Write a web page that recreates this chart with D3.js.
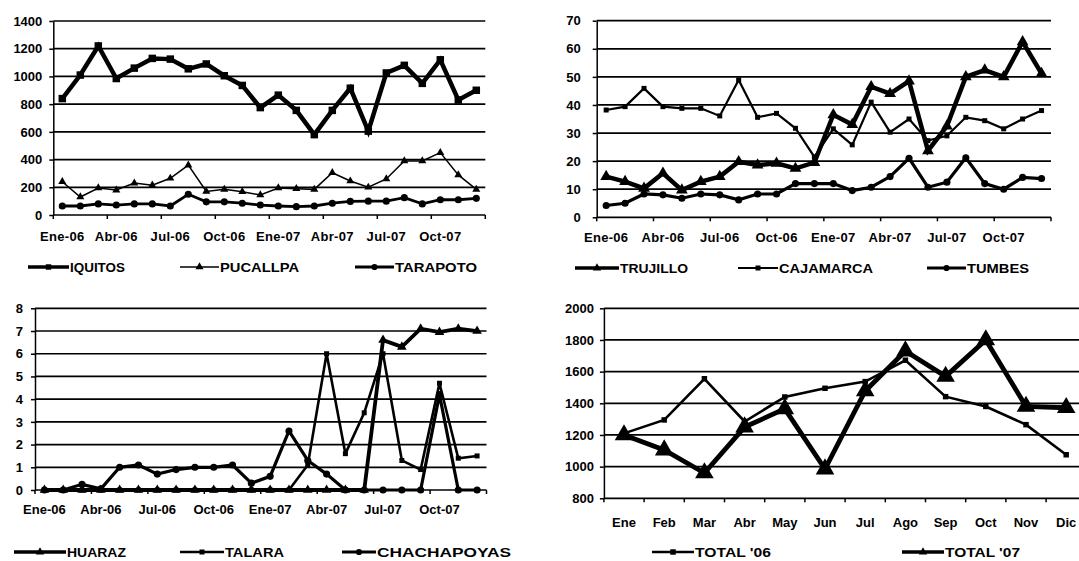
<!DOCTYPE html>
<html><head><meta charset="utf-8">
<script src="https://cdn.jsdelivr.net/npm/d3@7"></script>
<style>
html,body{margin:0;padding:0;background:#fff;}
svg{display:block;}
</style></head><body>
<svg id="chart" width="1079" height="561"></svg>
<script>
// Monthly categories, Jan 2006 – Dec 2007
const months = ["Ene-06","Feb-06","Mar-06","Abr-06","May-06","Jun-06","Jul-06","Ago-06","Sep-06","Oct-06","Nov-06","Dic-06",
                "Ene-07","Feb-07","Mar-07","Abr-07","May-07","Jun-07","Jul-07","Ago-07","Sep-07","Oct-07","Nov-07","Dic-07"];
const monthLabels = ["Ene-06","Abr-06","Jul-06","Oct-06","Ene-07","Abr-07","Jul-07","Oct-07"];
const monthNames = ["Ene","Feb","Mar","Abr","May","Jun","Jul","Ago","Sep","Oct","Nov","Dic"];

// Top-left panel
const iquitos  = [840,1010,1220,985,1060,1130,1125,1055,1090,1005,935,775,865,755,580,755,915,605,1025,1080,950,1120,830,900];
const pucallpa = [240,130,195,180,230,215,265,360,170,185,168,145,195,190,185,305,245,200,260,390,390,450,289,185];
const tarapoto = [65,65,80,72,80,80,65,150,95,95,85,72,65,60,65,85,98,100,100,125,80,110,110,120];
const ticks1 = [0,200,400,600,800,1000,1200,1400];

// Top-right panel
const trujillo  = [14.5,12.7,10.3,15.7,9.7,12.7,14.5,19.8,18.6,19.2,17.4,19.5,36.5,33,46.5,44,48.5,23.7,32.5,50,52.4,50,62.5,51.2];
const cajamarca = [38.2,39.4,45.9,39.4,38.8,38.8,36.1,48.9,35.6,37,31.7,21.5,31.5,25.8,41,30.3,35,27.3,29,35.6,34.4,31.5,35,38];
const tumbes    = [4.2,5,8.3,8,6.8,8.3,8,6.2,8.3,8.3,12,12,12,9.5,10.7,14.5,21,10.7,12.5,21.2,12,10,14.2,13.8];
const ticks2 = [0,10,20,30,40,50,60,70];

// Bottom-left panel
const huaraz      = [0,0,0,0,0,0,0,0,0,0,0,0,0,0,0,0,0,0,6.6,6.3,7.1,6.95,7.1,7.0];
const talara      = [0,0,0,0,0,0,0,0,0,0,0,0,0,0,1.1,6.0,1.6,3.4,6.0,1.3,0.9,4.7,1.4,1.5];
const chachapoyas = [0,0,0.25,0.05,1.0,1.1,0.7,0.9,1.0,1.0,1.1,0.3,0.6,2.6,1.3,0.7,0,0,0,0,0,4.2,0,0];
const ticks3 = [0,1,2,3,4,5,6,7,8];

// Bottom-right panel
const total06 = [1210,1295,1555,1285,1440,1495,1537,1672,1442,1380,1265,1075];
const total07 = [1200,1105,960,1250,1365,985,1478,1730,1570,1800,1380,1372];
const ticks4 = [800,1000,1200,1400,1600,1800,2000];

const svg = d3.select("#chart");
const FONT = "'Liberation Sans', Arial, sans-serif";

function marker(shape, size) {
  const t = {square: d3.symbolSquare, triangle: d3.symbolTriangle, circle: d3.symbolCircle, diamond: d3.symbolDiamond}[shape];
  return d3.symbol().type(t).size(size)();
}

function drawPanel(cfg) {
  const g = svg.append("g");
  const x = d3.scaleBand().domain(cfg.cats).range([cfg.x0, cfg.x1]).paddingInner(0).paddingOuter(0);
  const y = d3.scaleLinear().domain([cfg.ticks[0], cfg.ticks[cfg.ticks.length - 1]]).range([cfg.yBottom, cfg.yTop]);
  const cx = c => x(c) + x.bandwidth() / 2;
  const right = Math.min(cfg.x1, 1079);

  // horizontal gridlines
  g.append("g").selectAll("line").data(cfg.ticks).join("line")
    .attr("x1", cfg.x0).attr("x2", right)
    .attr("y1", d => y(d)).attr("y2", d => y(d))
    .attr("stroke", "#000").attr("stroke-width", 1.7);

  // value axis
  const ya = g.append("g").attr("transform", `translate(${cfg.x0},0)`)
    .call(d3.axisLeft(y).tickValues(cfg.ticks).tickFormat(d3.format("d"))
      .tickSize(4).tickPadding(cfg.yPad).tickSizeOuter(0));
  ya.select(".domain").attr("stroke", "#000").attr("stroke-width", 1.5);
  ya.selectAll(".tick line").attr("stroke", "#000").attr("stroke-width", 1.5);
  ya.selectAll("text").attr("font-family", FONT).attr("font-weight", "bold")
    .attr("font-size", 13).attr("fill", "#000");
  ya.attr("font-family", null).attr("font-size", null);

  // category axis labels
  const xa = g.append("g").attr("transform", `translate(0,${cfg.yBottom})`)
    .call(d3.axisBottom(x).tickValues(cfg.labels).tickSize(0).tickPadding(cfg.xPad));
  xa.select(".domain").remove();
  xa.selectAll("text").attr("font-family", FONT).attr("font-weight", "bold")
    .attr("font-size", 13).attr("fill", "#000").attr("letter-spacing", cfg.xSpacing || 0);
  xa.attr("font-family", null).attr("font-size", null);

  // category tick marks on band boundaries
  const bounds = cfg.cats.filter((c, i) => i % cfg.tickEvery === 0).map(c => x(c))
    .concat([x.range()[1]]).filter(v => v <= 1079);
  g.append("g").selectAll("line").data(bounds).join("line")
    .attr("x1", d => d).attr("x2", d => d)
    .attr("y1", cfg.yBottom).attr("y2", cfg.yBottom + 4)
    .attr("stroke", "#000").attr("stroke-width", 1.5);

  // series
  const line = d3.line().x((d, i) => cx(cfg.cats[i])).y(d => y(d));
  cfg.series.forEach(s => {
    g.append("path").datum(s.values).attr("d", line)
      .attr("fill", "none").attr("stroke", "#000")
      .attr("stroke-width", s.width).attr("stroke-linejoin", "miter").attr("stroke-miterlimit", 3);
    g.append("g").selectAll("path").data(s.values).join("path")
      .attr("d", marker(s.shape, s.size))
      .attr("transform", (d, i) => `translate(${cx(cfg.cats[i])},${y(d)})`)
      .attr("fill", "#000");
  });

  // legend
  cfg.series.forEach(s => {
    const lg = g.append("g");
    lg.append("line").attr("x1", s.lx0).attr("x2", s.lx1).attr("y1", cfg.legendY).attr("y2", cfg.legendY)
      .attr("stroke", "#000").attr("stroke-width", Math.min(s.width, 3.5));
    lg.append("path").attr("d", marker(s.shape, Math.min(s.size, 30)))
      .attr("transform", `translate(${(s.lx0 + s.lx1) / 2},${cfg.legendY})`).attr("fill", "#000");
    lg.append("text").attr("x", s.lx1 + 1).attr("y", cfg.legendY).attr("dy", "0.36em")
      .attr("font-family", FONT).attr("font-weight", "bold").attr("font-size", 13)
      .attr("textLength", s.tw).attr("lengthAdjust", "spacingAndGlyphs")
      .attr("fill", "#000").text(s.name);
  });
}

drawPanel({
  cats: months, labels: monthLabels, tickEvery: 3, ticks: ticks1,
  x0: 53.3, x1: 485.3, yTop: 21, yBottom: 215, yPad: 7, xPad: 17, xSpacing: 0.3,
  legendY: 267,
  series: [
    {name: "IQUITOS", values: iquitos, width: 4.5, shape: "square", size: 56, lx0: 28, lx1: 69, tw: 55},
    {name: "PUCALLPA", values: pucallpa, width: 1.5, shape: "triangle", size: 28, lx0: 180, lx1: 219, tw: 79},
    {name: "TARAPOTO", values: tarapoto, width: 2.8, shape: "circle", size: 40, lx0: 355, lx1: 394, tw: 82}
  ]
});

drawPanel({
  cats: months, labels: monthLabels, tickEvery: 3, ticks: ticks2,
  x0: 596.7, x1: 1051, yTop: 20.7, yBottom: 217.3, yPad: 12, xPad: 15, xSpacing: 0.3,
  legendY: 268,
  series: [
    {name: "TRUJILLO", values: trujillo, width: 4.5, shape: "triangle", size: 60, lx0: 575, lx1: 619, tw: 68},
    {name: "CAJAMARCA", values: cajamarca, width: 2.2, shape: "square", size: 25, lx0: 738, lx1: 778, tw: 94},
    {name: "TUMBES", values: tumbes, width: 3.2, shape: "circle", size: 40, lx0: 927, lx1: 966, tw: 62}
  ]
});

drawPanel({
  cats: months, labels: monthLabels, tickEvery: 3, ticks: ticks3,
  x0: 35, x1: 486.5, yTop: 308.3, yBottom: 490, yPad: 8, xPad: 15, xSpacing: 0,
  legendY: 552,
  series: [
    {name: "HUARAZ", values: huaraz, width: 3.8, shape: "triangle", size: 40, lx0: 14, lx1: 66, tw: 59},
    {name: "TALARA", values: talara, width: 2.6, shape: "square", size: 25, lx0: 180, lx1: 224, tw: 59},
    {name: "CHACHAPOYAS", values: chachapoyas, width: 3.2, shape: "circle", size: 40, lx0: 342, lx1: 376, tw: 134}
  ]
});

drawPanel({
  cats: monthNames, labels: monthNames, tickEvery: 1, ticks: ticks4,
  x0: 603.9, x1: 1086.3, yTop: 308.3, yBottom: 498.3, yPad: 6, xPad: 19, xSpacing: 0,
  legendY: 552,
  series: [
    {name: "TOTAL '06", values: total06, width: 2.6, shape: "square", size: 30, lx0: 652, lx1: 694, tw: 76},
    {name: "TOTAL '07", values: total07, width: 4.8, shape: "triangle", size: 150, lx0: 902, lx1: 944, tw: 75}
  ]
});
</script>
</body></html>
